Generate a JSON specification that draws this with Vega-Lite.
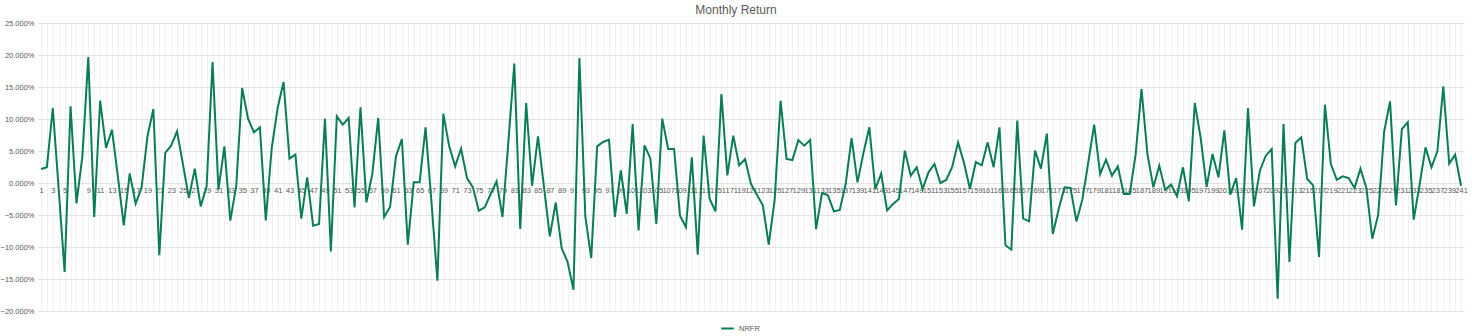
{
"$schema": "https://vega.github.io/schema/vega-lite/v6.json",
"autosize": {"type": "none"},
"padding": {"left": 38, "top": 23, "right": 8, "bottom": 25},
"width": 1426,
"height": 288,
"title": {"text": "Monthly Return", "fontSize": 12, "font": "Liberation Sans", "fontWeight": "normal", "color": "#595959", "offset": 2, "anchor": "middle", "dx": -15},
"config": {"view": {"stroke": null}, "font": "Liberation Sans"},
"data": {"values": [
{"m":1,"r":0.0219},{"m":2,"r":0.0245},{"m":3,"r":0.1172},{"m":4,"r":-0.010},{"m":5,"r":-0.139},{"m":6,"r":0.1198},{"m":7,"r":-0.0318},{"m":8,"r":0.0417},{"m":9,"r":0.1969},{"m":10,"r":-0.0531},
{"m":11,"r":0.1286},{"m":12,"r":0.0547},{"m":13,"r":0.0833},{"m":14,"r":0.010},{"m":15,"r":-0.0661},{"m":16,"r":0.0151},{"m":17,"r":-0.0323},{"m":18,"r":-0.0078},{"m":19,"r":0.0729},{"m":20,"r":0.1156},
{"m":21,"r":-0.113},{"m":22,"r":0.047},{"m":23,"r":0.0583},{"m":24,"r":0.0807},{"m":25,"r":0.029},{"m":26,"r":-0.0234},{"m":27,"r":0.0224},{"m":28,"r":-0.0365},{"m":29,"r":-0.0052},{"m":30,"r":0.189},
{"m":31,"r":-0.0104},{"m":32,"r":0.0573},{"m":33,"r":-0.0589},{"m":34,"r":-0.005},{"m":35,"r":0.1484},{"m":36,"r":0.1005},{"m":37,"r":0.0792},{"m":38,"r":0.087},{"m":39,"r":-0.0583},{"m":40,"r":0.0547},
{"m":41,"r":0.1172},{"m":42,"r":0.1578},{"m":43,"r":0.038},{"m":44,"r":0.0443},{"m":45,"r":-0.0557},{"m":46,"r":0.0089},{"m":47,"r":-0.0667},{"m":48,"r":-0.0641},{"m":49,"r":0.1005},{"m":50,"r":-0.1068},
{"m":51,"r":0.1042},{"m":52,"r":0.0911},{"m":53,"r":0.1016},{"m":54,"r":-0.038},{"m":55,"r":0.1182},{"m":56,"r":-0.0302},{"m":57,"r":0.0141},{"m":58,"r":0.1016},{"m":59,"r":-0.0531},{"m":60,"r":-0.0375},
{"m":61,"r":0.0417},{"m":62,"r":0.0688},{"m":63,"r":-0.0964},{"m":64,"r":0.001},{"m":65,"r":0.001},{"m":66,"r":0.087},{"m":67,"r":-0.03},{"m":68,"r":-0.1526},{"m":69,"r":0.1083},{"m":70,"r":0.0573},
{"m":71,"r":0.026},{"m":72,"r":0.0536},{"m":73,"r":0.0078},{"m":74,"r":-0.0068},{"m":75,"r":-0.0432},{"m":76,"r":-0.038},{"m":77,"r":-0.0172},{"m":78,"r":0.0026},{"m":79,"r":-0.0531},{"m":80,"r":0.065},
{"m":81,"r":0.1865},{"m":82,"r":-0.0719},{"m":83,"r":0.125},{"m":84,"r":-0.0042},{"m":85,"r":0.0729},{"m":86,"r":-0.005},{"m":87,"r":-0.0833},{"m":88,"r":-0.0305},{"m":89,"r":-0.1016},{"m":90,"r":-0.1234},
{"m":91,"r":-0.1667},{"m":92,"r":0.1953},{"m":93,"r":-0.0521},{"m":94,"r":-0.1172},{"m":95,"r":0.0573},{"m":96,"r":0.0641},{"m":97,"r":0.0677},{"m":98,"r":-0.0531},{"m":99,"r":0.0198},{"m":100,"r":-0.0484},
{"m":101,"r":0.0922},{"m":102,"r":-0.074},{"m":103,"r":0.0589},{"m":104,"r":0.038},{"m":105,"r":-0.0641},{"m":106,"r":0.1005},{"m":107,"r":0.0531},{"m":108,"r":0.0531},{"m":109,"r":-0.051},{"m":110,"r":-0.069},
{"m":111,"r":0.0401},{"m":112,"r":-0.112},{"m":113,"r":0.074},{"m":114,"r":-0.0245},{"m":115,"r":-0.0443},{"m":116,"r":0.139},{"m":117,"r":0.012},{"m":118,"r":0.074},{"m":119,"r":0.0276},{"m":120,"r":0.0375},
{"m":121,"r":-0.0016},{"m":122,"r":-0.0182},{"m":123,"r":-0.0349},{"m":124,"r":-0.0964},{"m":125,"r":-0.026},{"m":126,"r":0.1286},{"m":127,"r":0.0375},{"m":128,"r":0.0359},{"m":129,"r":0.0672},{"m":130,"r":0.0583},
{"m":131,"r":0.0672},{"m":132,"r":-0.072},{"m":133,"r":-0.0156},{"m":134,"r":-0.0193},{"m":135,"r":-0.0443},{"m":136,"r":-0.0422},{"m":137,"r":-0.0016},{"m":138,"r":0.0703},{"m":139,"r":0.001},{"m":140,"r":0.0469},
{"m":141,"r":0.087},{"m":142,"r":-0.0094},{"m":143,"r":0.0146},{"m":144,"r":-0.0427},{"m":145,"r":-0.0328},{"m":146,"r":-0.025},{"m":147,"r":0.0505},{"m":148,"r":0.0115},{"m":149,"r":0.0245},{"m":150,"r":-0.0094},
{"m":151,"r":0.0167},{"m":152,"r":0.0297},{"m":153,"r":0.0},{"m":154,"r":0.0047},{"m":155,"r":0.025},{"m":156,"r":0.0635},{"m":157,"r":0.0313},{"m":158,"r":-0.0089},{"m":159,"r":0.0328},{"m":160,"r":0.0276},
{"m":161,"r":0.0635},{"m":162,"r":0.0245},{"m":163,"r":0.087},{"m":164,"r":-0.0974},{"m":165,"r":-0.1042},{"m":166,"r":0.0974},{"m":167,"r":-0.0557},{"m":168,"r":-0.0599},{"m":169,"r":0.0505},{"m":170,"r":0.0224},
{"m":171,"r":0.0771},{"m":172,"r":-0.0797},{"m":173,"r":-0.0406},{"m":174,"r":-0.0068},{"m":175,"r":-0.0078},{"m":176,"r":-0.06},{"m":177,"r":-0.026},{"m":178,"r":0.032},{"m":179,"r":0.0911},{"m":180,"r":0.0141},
{"m":181,"r":0.0365},{"m":182,"r":0.0115},{"m":183,"r":0.026},{"m":184,"r":-0.0172},{"m":185,"r":-0.0172},{"m":186,"r":0.0443},{"m":187,"r":0.1469},{"m":188,"r":0.0453},{"m":189,"r":-0.0068},{"m":190,"r":0.0271},
{"m":191,"r":-0.0104},{"m":192,"r":-0.0026},{"m":193,"r":-0.0208},{"m":194,"r":0.0245},{"m":195,"r":-0.0286},{"m":196,"r":0.125},{"m":197,"r":0.0703},{"m":198,"r":-0.006},{"m":199,"r":0.0453},{"m":200,"r":0.0089},
{"m":201,"r":0.0823},{"m":202,"r":-0.0182},{"m":203,"r":0.0078},{"m":204,"r":-0.0729},{"m":205,"r":0.1172},{"m":206,"r":-0.0365},{"m":207,"r":0.0193},{"m":208,"r":0.0427},{"m":209,"r":0.0531},{"m":210,"r":-0.1807},
{"m":211,"r":0.0922},{"m":212,"r":-0.1234},{"m":213,"r":0.0625},{"m":214,"r":0.0714},{"m":215,"r":0.0063},{"m":216,"r":-0.0036},{"m":217,"r":-0.1156},{"m":218,"r":0.1224},{"m":219,"r":0.0297},{"m":220,"r":0.005},
{"m":221,"r":0.0104},{"m":222,"r":0.0078},{"m":223,"r":-0.0078},{"m":224,"r":0.0224},{"m":225,"r":-0.0078},{"m":226,"r":-0.087},{"m":227,"r":-0.0495},{"m":228,"r":0.0797},{"m":229,"r":0.1276},{"m":230,"r":-0.0349},
{"m":231,"r":0.0844},{"m":232,"r":0.0948},{"m":233,"r":-0.0573},{"m":234,"r":-0.0026},{"m":235,"r":0.0557},{"m":236,"r":0.0245},{"m":237,"r":0.0495},{"m":238,"r":0.151},{"m":239,"r":0.0302},{"m":240,"r":0.0443},
{"m":241,"r":-0.0042}
]},
"mark": {"type": "line", "strokeWidth": 2},
"encoding": {
  "x": {"field": "m", "type": "ordinal", "scale": {"type": "point", "padding": 0.5},
        "axis": {"title": null, "labelAngle": 0, "labelExpr": "datum.value % 2 == 1 ? datum.label : ''", "labelOverlap": false, "labelFontSize": 7.5, "labelColor": "#595959", "ticks": false, "domain": false, "offset": -128, "grid": true, "gridColor": "#f2f2f2", "labelPadding": 3}},
  "y": {"field": "r", "type": "quantitative", "scale": {"domain": [-0.2, 0.25], "nice": false, "zero": false},
        "axis": {"title": null, "values": [-0.2, -0.15, -0.1, -0.05, 0, 0.05, 0.1, 0.15, 0.2, 0.25], "format": ".3%", "gridColor": "#e3e3e3", "domain": false, "ticks": false, "labelFontSize": 7.5, "labelColor": "#595959", "labelPadding": 4}},
  "color": {"datum": "NRFR", "type": "nominal", "scale": {"range": ["#0a7d55"]},
        "legend": {"title": null, "orient": "none", "legendX": 682, "legendY": 298, "symbolType": "stroke", "symbolStrokeWidth": 2, "symbolSize": 160, "labelFontSize": 7.5, "labelColor": "#595959"}}
}
}
